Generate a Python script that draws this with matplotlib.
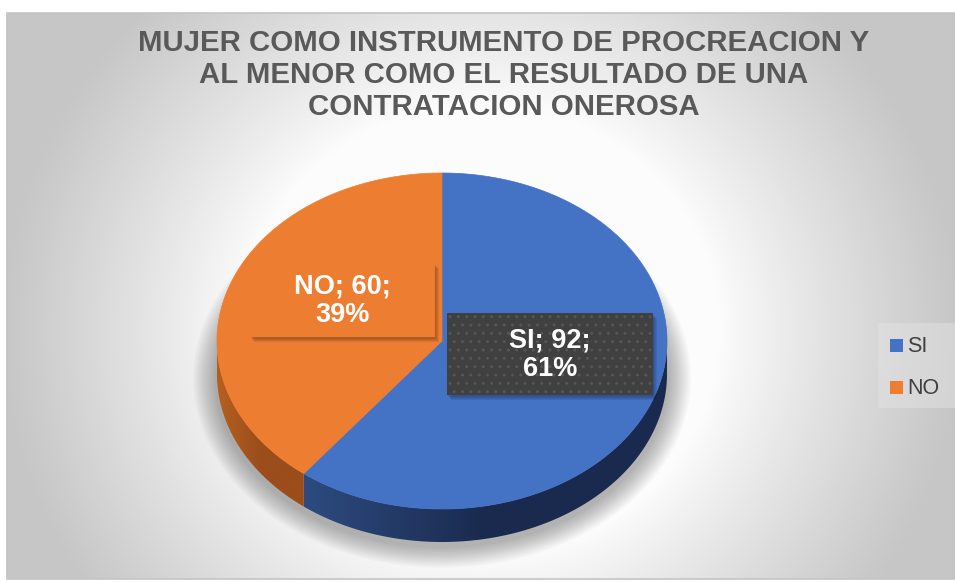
import numpy as np
import matplotlib.pyplot as plt
from matplotlib.patches import Polygon, Rectangle, Ellipse
from matplotlib.colors import LinearSegmentedColormap

# ---- data ----
categories = ['SI', 'NO']
values = [92, 60]
top_colors = ['#4472C4', '#ED7D31']
side_colors = [('#2d4b80', '#1a2a4e'), ('#b5601f', '#9b4d1b')]
title = "MUJER COMO INSTRUMENTO DE PROCREACION Y\nAL MENOR COMO EL RESULTADO DE UNA\nCONTRATACION ONEROSA"

font = 'Liberation Sans'

W, H = 955, 582
fig = plt.figure(figsize=(9.55, 5.82), dpi=100)
ax = fig.add_axes([0, 0, 1, 1])
ax.set_xlim(0, W)
ax.set_ylim(H, 0)
ax.axis('off')

# ---- background (radial gray gradient) ----
ax.add_patch(Rectangle((0, 0), W, H, color='white', zorder=0))
px0, px1, py0, py1 = 7, W, 13, 579
yy, xx = np.mgrid[py0:py1, px0:px1]
d = np.sqrt(((xx - 480) / 475.0) ** 2 + ((yy - 330) / 450.0) ** 2)
t = np.clip((d - 0.5) / 0.5, 0, 1)
g = 0.99 - 0.21 * t ** 0.9
ax.imshow(np.dstack([g, g, g]), extent=(px0, px1, py1, py0), origin='upper',
          zorder=0.5, aspect='auto', interpolation='bilinear')
ax.add_patch(Rectangle((px0, py0), px1 - px0, py1 - py0, facecolor='none', edgecolor='#c4c4c4',
                       lw=1.2, zorder=0.6))

# ---- 3D pie geometry ----
cx, cy, rx, ry, depth = 442, 341, 225, 168, 33


def ell(th):
    th = np.radians(th)
    return cx + rx * np.cos(th), cy - ry * np.sin(th)


total = sum(values)
fracs = [v / total for v in values]
ranges = []
start = 90.0
for f in fracs:
    end = start - 360 * f
    ranges.append((end, start))
    start = end

# soft shadow under the pie
for i in range(16):
    k = i / 15.0
    ax.add_patch(Ellipse((cx, cy + depth + 4), 2 * (rx + 24 - 22 * k), 2 * (ry + 22 - 20 * k),
                         facecolor='black', edgecolor='none', alpha=0.02, zorder=1))

# sides
for (a0, a1), (c_l, c_r) in zip(ranges, side_colors):
    for k in (-1, 0, 1):
        lo, hi = max(a0, -180 + 360 * k), min(a1, 360 * k)
        if hi <= lo:
            continue
        th = np.linspace(lo, hi, 200)
        x, y = ell(th)
        pts = np.concatenate([np.column_stack([x, y]), np.column_stack([x[::-1], y[::-1] + depth])])
        poly = Polygon(pts, closed=True, facecolor='none', edgecolor='none', zorder=2)
        ax.add_patch(poly)
        xmin, xmax = x.min(), x.max()
        grad = np.linspace(0, 1, 256)[None, :]
        cmap = LinearSegmentedColormap.from_list('s', [c_l, c_r, c_r])
        im = ax.imshow(grad, extent=(xmin, xmax, cy + ry + depth + 2, cy - 2), cmap=cmap,
                       aspect='auto', zorder=2, origin='upper')
        im.set_clip_path(poly)

# top faces
for (a0, a1), col in zip(ranges, top_colors):
    th = np.linspace(a0, a1, 300)
    x, y = ell(th)
    pts = np.concatenate([[[cx, cy]], np.column_stack([x, y])])
    ax.add_patch(Polygon(pts, closed=True, facecolor=col, edgecolor=col, lw=0.5, zorder=3))

# ---- data labels ----
label_boxes = [  # (x0, y0, x1, y1) in pixels
    (447, 313, 653, 395),
    (250, 263, 435, 337),
]
box_styles = [dict(facecolor='#404040', hatch='..', edgecolor='#555555'),
              dict(facecolor='#ED7D31', hatch=None, edgecolor='#ED7D31')]
for cat, v, f, (x0, y0, x1, y1), st in zip(categories, values, fracs, label_boxes, box_styles):
    for s in range(4):
        ax.add_patch(Rectangle((x0 + 1 + s, y0 + 2 + s), x1 - x0, y1 - y0, facecolor='black',
                               alpha=0.07, edgecolor='none', zorder=4))
    r = Rectangle((x0, y0), x1 - x0, y1 - y0, facecolor=st['facecolor'], edgecolor=st['edgecolor'],
                  hatch=st['hatch'], lw=0, zorder=5)
    ax.add_patch(r)
    ax.text((x0 + x1) / 2, (y0 + y1) / 2 + 1, f"{cat}; {v};\n{f * 100:.0f}%", ha='center', va='center',
            color='white', fontsize=19.5, fontweight='bold', family=font, linespacing=1.1, zorder=6)

# ---- title ----
ax.text(504, 75, title, ha='center', va='center', fontsize=21.2, fontweight='bold',
        color='#595959', family=font, linespacing=1.18, zorder=6)

# ---- legend ----
ax.add_patch(Rectangle((878, 323), 77, 85, facecolor='#e2e2e2', edgecolor='none', alpha=0.5, zorder=5))
for i, (cat, col) in enumerate(zip(categories, top_colors)):
    yc = 345 + 42 * i
    ax.add_patch(Rectangle((890, yc - 6.5), 13, 13, facecolor=col, edgecolor='none', zorder=6))
    ax.text(907, yc + 1, cat, ha='left', va='center', fontsize=15.5, color='#404040',
            family=font, zorder=6)

fig.savefig('out.png', dpi=100)
